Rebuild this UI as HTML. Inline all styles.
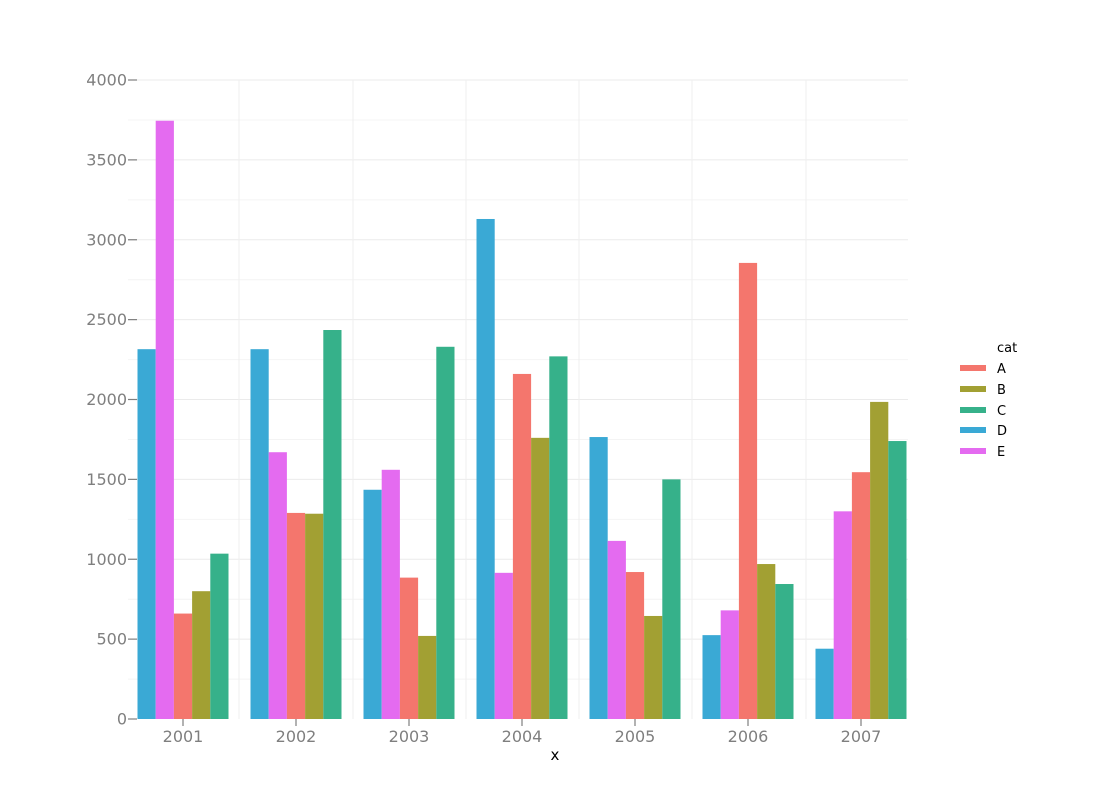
<!DOCTYPE html>
<html><head><meta charset="utf-8"><style>body{margin:0;background:#fff}svg{display:block}text{font-family:"DejaVu Sans","Liberation Sans",sans-serif}</style></head>
<body>
<svg id="s" width="1100" height="800" xmlns="http://www.w3.org/2000/svg">
<g id="grid"></g><g id="bars"></g><g id="axes"></g>
<text x="555" y="760" font-size="15" text-anchor="middle" fill="#000">x</text>
<text x="997" y="352" font-size="13" fill="#000">cat</text>
<rect x="960" y="365" width="26" height="6" fill="#f4766d"/><text x="997" y="373" font-size="13">A</text>
<rect x="960" y="386" width="26" height="6" fill="#a2a033"/><text x="997" y="394" font-size="13">B</text>
<rect x="960" y="407" width="26" height="6" fill="#36b18a"/><text x="997" y="415" font-size="13">C</text>
<rect x="960" y="427" width="26" height="6" fill="#3aa9d5"/><text x="997" y="435" font-size="13">D</text>
<rect x="960" y="448" width="26" height="6" fill="#e46bf0"/><text x="997" y="456" font-size="13">E</text>
</svg>
<script>
var NS="http://www.w3.org/2000/svg";
function el(p,t,a,txt){var e=document.createElementNS(NS,t);for(var k in a)e.setAttribute(k,a[k]);if(txt!=null)e.textContent=txt;document.getElementById(p).appendChild(e);}
function Y(v){return 719-v*0.15975;}
for(var v=250;v<=4000;v+=250){el("grid","line",{x1:128,x2:908,y1:Y(v),y2:Y(v),stroke:v%500?"#f4f4f4":"#ebebeb","stroke-width":1});}
[239,353,466,579,692,806].forEach(function(x){el("grid","line",{x1:x,x2:x,y1:80,y2:719,stroke:"#efefef","stroke-width":1});});
var cols={D:"#3aa9d5",E:"#e46bf0",A:"#f4766d",B:"#a2a033",C:"#36b18a"};
var order=["D","E","A","B","C"];
var data=[[2315,3745,660,800,1035],[2315,1670,1290,1285,2435],[1435,1560,885,520,2330],[3130,915,2160,1760,2270],[1765,1115,920,645,1500],[525,680,2855,970,845],[440,1300,1545,1985,1740]];
var w=18.2;
data.forEach(function(g,i){var c=183+113*i;var l=c-45.5;
g.forEach(function(v,j){el("bars","rect",{x:l+j*w,y:Y(v),width:w,height:v*0.15975,fill:cols[order[j]]});});
el("axes","text",{x:c,y:742,"font-size":16,"text-anchor":"middle",fill:"#7f7f7f"},String(2001+i));
el("axes","line",{x1:c,x2:c,y1:719,y2:726,stroke:"#7f7f7f","stroke-width":1.2});});
for(var v=0;v<=4000;v+=500){el("axes","line",{x1:128,x2:137,y1:Y(v),y2:Y(v),stroke:"#7f7f7f","stroke-width":1.2});
el("axes","text",{x:127,y:Y(v)+5.5,"font-size":16,"text-anchor":"end",fill:"#7f7f7f"},String(v));}
</script>
</body></html>
